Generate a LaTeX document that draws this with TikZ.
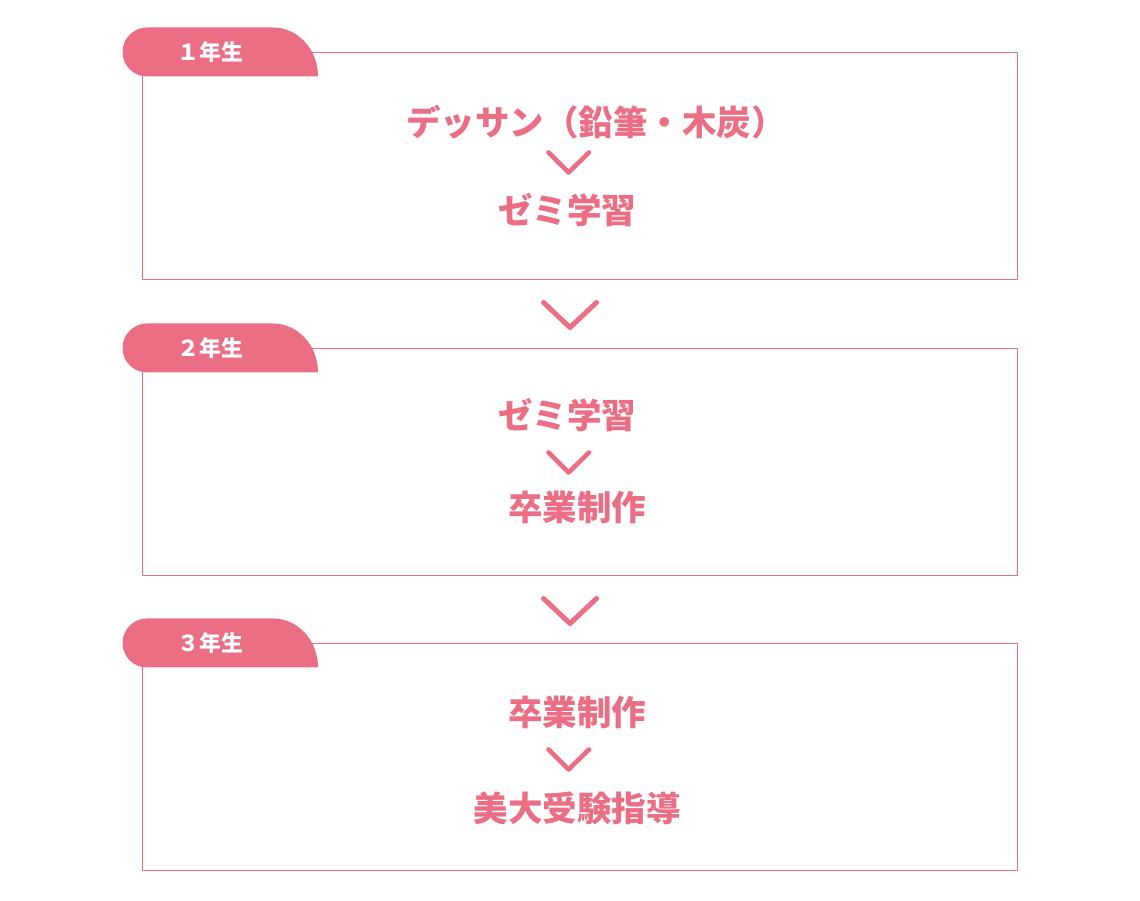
\documentclass[tikz,border=0pt]{standalone}
\usepackage{fontspec}
\newfontfamily\jpfont{Noto Sans CJK JP}
\usetikzlibrary{calc}
\definecolor{gradepink}{HTML}{EC6E84}
\tikzset{
  yearbox/.style={draw=gradepink, line width=0.9pt},
  yeartab/.style={fill=gradepink, draw=none},
  tablabel/.style={text=white, font=\jpfont\bfseries\fontsize{22}{22}\selectfont, inner sep=0pt},
  steptext/.style={text=gradepink, font=\jpfont\bfseries\fontsize{34.5}{34.5}\selectfont, inner sep=0pt},
  smallvee/.style={draw=gradepink, line width=4.6pt, line cap=round, line join=round},
  bigvee/.style={draw=gradepink, line width=5pt, line cap=round, line join=round}
}
\def\gradetab(#1){\fill[yeartab] (318, #1-24.5) -- (147, #1-24.5) arc[start angle=-90, end angle=-270, radius=24.5] -- (273, #1+24.5) .. controls (298, #1+24.5) and (318, #1+2.5) .. (318, #1-24.5) -- cycle;}

\begin{document}
\begin{tikzpicture}[x=1pt, y=1pt]
			\useasboundingbox (0,0) rectangle (1140,900);
			
			%%%%% 1 %%%%%
			\draw[yearbox] (142, 848) rectangle (1017, 621);
			\gradetab(848)
			\node[tablabel] (grade1) at (210, 848) {１年生};
			
			\node[steptext] (dessin) at (596, 778) {デッサン（鉛筆・木炭）};
			\draw[smallvee] (548.5, 747.5) -- (568.5, 727.5) -- (589, 747.5);
			\node[steptext] (zemi1) at (567, 690) {ゼミ学習};
			
			\draw[bigvee] (543.5, 597.5) -- (570, 572.5) -- (596.5, 597.5);
			
			%%%%% 2 %%%%%
			\draw[yearbox] (142, 552) rectangle (1017, 325);
			\gradetab(552)
			\node[tablabel] (grade2) at (210, 552) {２年生};
			
			\node[steptext] (zemi2) at (567, 485) {ゼミ学習};
			\draw[smallvee] (548.5, 447.5) -- (568.5, 427.5) -- (589, 447.5);
			\node[steptext] (sotsu2) at (577, 393) {卒業制作};
			
			\draw[bigvee] (543.5, 301.5) -- (570, 276.5) -- (596.5, 301.5);
			
			%%%%% 3 %%%%%
			\draw[yearbox] (142, 257) rectangle (1017, 30);
			\gradetab(257)
			\node[tablabel] (grade3) at (210, 257) {３年生};
			
			\node[steptext] (sotsu3) at (577, 188) {卒業制作};
			\draw[smallvee] (548.5, 150.5) -- (568.5, 130.5) -- (589, 150.5);
			\node[steptext] (bidai) at (577, 92) {美大受験指導};
			
			%%%%% END %%%%%
\end{tikzpicture}
\end{document}
